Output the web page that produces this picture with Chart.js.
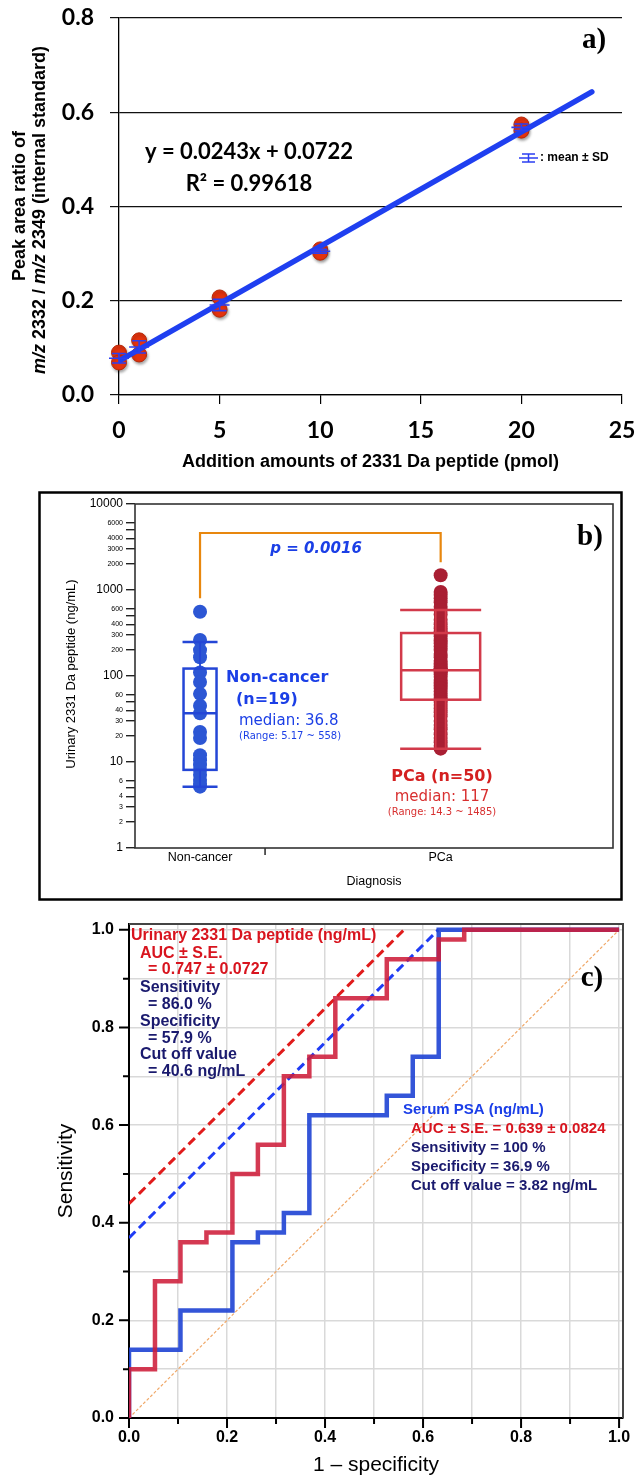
<!DOCTYPE html>
<html>
<head>
<meta charset="utf-8">
<script src="https://cdn.jsdelivr.net/npm/chart.js@4.4.1/dist/chart.umd.min.js"></script>
<style>
  html, body { margin: 0; padding: 0; background: #fff; }
  #wrap { position: relative; width: 638px; height: 1476px; }
  canvas { position: absolute; left: 0; }
  #chartA { top: 0; }
  #chartB { top: 485px; }
  #chartC { top: 905px; }
</style>
</head>
<body>
<div id="wrap">
  <canvas id="chartA" width="638" height="480"></canvas>
  <canvas id="chartB" width="638" height="420"></canvas>
  <canvas id="chartC" width="638" height="571"></canvas>
</div>
<script>
// ---------- a) calibration curve ----------
const addAmounts = [0, 1, 5, 10, 20];
const ratioRep1  = [0.090, 0.116, 0.207, 0.309, 0.574];
const ratioRep2  = [0.069, 0.086, 0.181, 0.302, 0.561];
const ratioMean  = [0.078, 0.102, 0.191, 0.305, 0.568];
const ratioSD    = [0.010, 0.013, 0.012, 0.004, 0.007];
const fitX = [0, 23.5];
const fitY = [0.0722, 0.6433];
const aXTicks = [0, 5, 10, 15, 20, 25];
const aYTicks = [0, 0.2, 0.4, 0.6, 0.8];
const aYTickLabels = ['0.0', '0.2', '0.4', '0.6', '0.8'];

// ---------- b) box plot ----------
const groups = ['Non-cancer', 'PCa'];
const nonCancerVals = [558, 262, 200, 165, 110, 85, 62, 45, 36.8, 22.3, 19, 12, 10.5, 9.2, 8.1, 7.1, 6.2, 5.6, 5.17];
const pcaVals = [1485, 950, 880, 800, 720, 640, 585, 520, 450, 400, 360, 330, 316, 290, 260, 240, 220, 200, 180, 165,
                 150, 140, 130, 122, 117, 117, 112, 105, 98, 90, 84, 78, 72, 66, 60, 56, 53, 50, 46, 42,
                 38, 34, 30, 27, 24, 21, 19, 17, 15.5, 14.3];
const boxLow    = [5.17, 14.3];
const boxQ1     = [8.1, 53];
const boxMedian = [36.8, 117];
const boxQ3     = [122, 316];
const boxHigh   = [248, 585];
const bYTicks = [1, 2, 3, 4, 5, 6, 10, 20, 30, 40, 50, 60, 100, 200, 300, 400, 500, 600,
                 1000, 2000, 3000, 4000, 5000, 6000, 10000];
const bYTickLabels = ['1', '2', '3', '4', '', '6', '10', '20', '30', '40', '', '60', '100', '200', '300', '400', '', '600',
                      '1000', '2000', '3000', '4000', '', '6000', '10000'];
const bMajorTicks = [1, 10, 100, 1000, 10000];
const pBracket = [800, 4600, 2100];   // left leg end, bar level, right leg end

// ---------- c) ROC curves ----------
const urinaryFpr = [0, 0, 0.053, 0.105, 0.158, 0.211, 0.263, 0.316, 0.368, 0.421, 0.526, 0.632, 0.684, 1.0];
const urinaryTpr = [0, 0.10, 0.28, 0.36, 0.38, 0.50, 0.56, 0.70, 0.74, 0.86, 0.94, 0.98, 1.0, 1.0];
const psaFpr = [0, 0, 0.105, 0.211, 0.263, 0.316, 0.368, 0.526, 0.579, 0.632, 1.0];
const psaTpr = [0, 0.14, 0.22, 0.36, 0.38, 0.42, 0.62, 0.66, 0.74, 1.0, 1.0];
const urinaryCutX = [0, 0.561];
const urinaryCutY = [0.439, 1.0];
const psaCutX = [0, 0.631];
const psaCutY = [0.369, 1.0];
const chanceX = [0, 1];
const chanceY = [0, 1];
const cTicks = [0, 0.1, 0.2, 0.3, 0.4, 0.5, 0.6, 0.7, 0.8, 0.9, 1.0];
const cTickLabels = ['0.0', '', '0.2', '', '0.4', '', '0.6', '', '0.8', '', '1.0'];

// layout / style
const groupPos = [1, 4.7];
const boxHalf = [16.5, 39.5];
const whiskerHalf = [0, 5];
const dotColors = ['#2c56d4', '#a91f33'];
const boxColors = ['#2446d6', '#d23a4a'];

const SANS = '"Liberation Sans", Arial, sans-serif';
const SERIF = '"Liberation Serif", "Times New Roman", serif';
const GOTHIC = '"DejaVu Sans", sans-serif';

Chart.defaults.animation = false;
Chart.defaults.font.family = SANS;
Chart.defaults.color = '#000';
Chart.defaults.plugins.legend.display = false;
Chart.defaults.plugins.tooltip.enabled = false;

const pts = (xs, ys) => xs.map((v, i) => ({ x: v, y: ys[i] }));

// pin the axis box sizes so the plot areas land where the original ones are
function pinWidth(w) {
    return s => { s.width = w; s.paddingTop = 0; s.paddingBottom = 0; };
}
function pinHeight(h) {
    return s => { s.height = h; s.paddingLeft = 0; s.paddingRight = 0; };
}

function drawRich(ctx, parts, x, y, align) {
    let total = 0;
    parts.forEach(p => { ctx.font = p[1]; total += ctx.measureText(p[0]).width; });
    let cx = align === 'center' ? x - total / 2 : x;
    ctx.textAlign = 'left';
    parts.forEach(p => {
        ctx.font = p[1];
        ctx.fillStyle = p[2];
        ctx.fillText(p[0], cx, y);
        cx += ctx.measureText(p[0]).width;
    });
}

function text(ctx, str, x, y, font, color, align) {
    ctx.font = font;
    ctx.fillStyle = color;
    ctx.textAlign = align || 'left';
    ctx.fillText(str, x, y);
}

// ================= a) =================
const panelA = {
    id: 'panelA',
    beforeDatasetDraw(chart, args) {
        if (args.index === 1) {
            chart.ctx.save();
            chart.ctx.shadowColor = 'rgba(0,0,0,0.35)';
            chart.ctx.shadowBlur = 3;
            chart.ctx.shadowOffsetX = 1;
            chart.ctx.shadowOffsetY = 2;
        }
    },
    afterDatasetDraw(chart, args) {
        if (args.index === 1) chart.ctx.restore();
    },
    afterDatasetsDraw(chart) {
        const { ctx, scales: { x, y } } = chart;
        ctx.save();
        ctx.strokeStyle = '#2b3ff2';
        ctx.lineWidth = 1.6;
        addAmounts.forEach((amt, i) => {
            const px = x.getPixelForValue(amt);
            const pm = y.getPixelForValue(ratioMean[i]);
            const pt = y.getPixelForValue(ratioMean[i] + ratioSD[i]);
            const pb = y.getPixelForValue(ratioMean[i] - ratioSD[i]);
            ctx.beginPath();
            ctx.moveTo(px - 10, pm); ctx.lineTo(px + 10, pm);
            ctx.moveTo(px - 7, pt); ctx.lineTo(px + 7, pt);
            ctx.moveTo(px - 7, pb); ctx.lineTo(px + 7, pb);
            ctx.moveTo(px, pt); ctx.lineTo(px, pb);
            ctx.stroke();
        });
        ctx.restore();
    },
    afterDraw(chart) {
        const ctx = chart.ctx;
        const area = chart.chartArea;
        ctx.save();
        ctx.textBaseline = 'middle';

        text(ctx, 'y = 0.0243x + 0.0722', 249, 152, 'bold 22px Lato', '#000', 'center');
        text(ctx, 'R\u00b2 = 0.99618', 249, 184, 'bold 22px Lato', '#000', 'center');

        // legend: mean ± SD
        ctx.strokeStyle = '#2b3ff2';
        ctx.lineWidth = 1.5;
        ctx.beginPath();
        ctx.moveTo(519, 158); ctx.lineTo(538, 158);
        ctx.moveTo(522, 154); ctx.lineTo(535, 154);
        ctx.moveTo(522, 162); ctx.lineTo(535, 162);
        ctx.moveTo(528.5, 154); ctx.lineTo(528.5, 162);
        ctx.stroke();
        text(ctx, ': mean \u00b1 SD', 540, 158, 'bold 12px ' + SANS, '#000');

        text(ctx, 'a)', 594, 41, 'bold 29px ' + SERIF, '#000', 'center');

        text(ctx, 'Addition amounts of 2331 Da peptide (pmol)', (area.left + area.right) / 2, 462,
             'bold 18px ' + SANS, '#000', 'center');

        const b = 'bold 18px ' + SANS, bi = 'italic bold 18px ' + SANS;
        ctx.translate(20, 206);
        ctx.rotate(-Math.PI / 2);
        drawRich(ctx, [['Peak area ratio of', b, '#000']], 0, 0, 'center');
        drawRich(ctx, [['m/z', bi, '#000'], [' 2332 / ', b, '#000'], ['m/z', bi, '#000'],
                       [' 2349 (internal standard)', b, '#000']], -4, 20, 'center');
        ctx.restore();
    }
};

new Chart(document.getElementById('chartA'), {
    type: 'scatter',
    data: {
        datasets: [{
            data: pts(fitX, fitY),
            showLine: true,
            borderColor: '#1f3ff0',
            borderWidth: 5.5,
            pointRadius: 0,
            borderCapStyle: 'round'
        }, {
            data: pts(addAmounts, ratioRep1).concat(pts(addAmounts, ratioRep2)),
            pointRadius: 7.5,
            backgroundColor: '#e4330e',
            borderColor: '#b52808',
            borderWidth: 1,
            clip: false
        }]
    },
    options: {
        responsive: false,
        layout: { padding: { top: 18, right: 16, left: 0, bottom: 0 } },
        scales: {
            x: {
                type: 'linear', min: 0, max: 25,
                afterBuildTicks: s => { s.ticks = aXTicks.map(v => ({ value: v })); },
                afterFit: pinHeight(85),
                ticks: { font: { family: 'Lato', weight: 'bold', size: 23 }, color: '#000', padding: 13, autoSkip: false },
                grid: { drawOnChartArea: false, tickLength: 9, color: '#000', lineWidth: 1.2 },
                border: { color: '#000', width: 1.3 }
            },
            y: {
                type: 'linear', min: 0, max: 0.8,
                afterBuildTicks: s => { s.ticks = aYTicks.map(v => ({ value: v })); },
                afterFit: pinWidth(119),
                ticks: {
                    font: { family: 'Lato', weight: 'bold', size: 23 }, color: '#000', padding: 16, autoSkip: false,
                    callback: (v, i) => aYTickLabels[i]
                },
                grid: { color: '#111', lineWidth: 1.2, tickLength: 9 },
                border: { color: '#000', width: 1.3 }
            }
        }
    },
    plugins: [panelA]
});

// ================= b) =================
const panelB = {
    id: 'panelB',
    afterDatasetsDraw(chart) {
        const { ctx, scales: { x, y } } = chart;
        ctx.save();
        groups.forEach((g, i) => {
            const cx = x.getPixelForValue(groupPos[i]);
            const hw = boxHalf[i];
            const yq1 = y.getPixelForValue(boxQ1[i]);
            const yq3 = y.getPixelForValue(boxQ3[i]);
            const ymd = y.getPixelForValue(boxMedian[i]);
            const ylo = y.getPixelForValue(boxLow[i]);
            const yhi = y.getPixelForValue(boxHigh[i]);
            ctx.strokeStyle = boxColors[i];
            ctx.lineWidth = 2.5;
            ctx.strokeRect(cx - hw, yq3, hw * 2, yq1 - yq3);
            ctx.beginPath();
            ctx.moveTo(cx - hw, ymd); ctx.lineTo(cx + hw, ymd);
            ctx.moveTo(cx - hw - 1, yhi); ctx.lineTo(cx + hw + 1, yhi);
            ctx.moveTo(cx - hw - 1, ylo); ctx.lineTo(cx + hw + 1, ylo);
            ctx.stroke();
            ctx.lineWidth = 1.8;
            const wh = whiskerHalf[i];
            ctx.beginPath();
            if (wh === 0) {
                ctx.moveTo(cx, yhi); ctx.lineTo(cx, yq3);
                ctx.moveTo(cx, yq1); ctx.lineTo(cx, ylo);
            } else {
                [-wh, wh].forEach(d => {
                    ctx.moveTo(cx + d, yhi); ctx.lineTo(cx + d, yq3);
                    ctx.moveTo(cx + d, yq1); ctx.lineTo(cx + d, ylo);
                });
            }
            ctx.stroke();
        });

        // significance bracket
        const x1 = x.getPixelForValue(groupPos[0]);
        const x2 = x.getPixelForValue(groupPos[1]);
        ctx.strokeStyle = '#e8870e';
        ctx.lineWidth = 2.2;
        ctx.beginPath();
        ctx.moveTo(x1, y.getPixelForValue(pBracket[0]));
        ctx.lineTo(x1, y.getPixelForValue(pBracket[1]));
        ctx.lineTo(x2, y.getPixelForValue(pBracket[1]));
        ctx.lineTo(x2, y.getPixelForValue(pBracket[2]));
        ctx.stroke();
        ctx.restore();
    },
    afterDraw(chart) {
        const { ctx, chartArea: a, scales: { x } } = chart;
        ctx.save();
        // plot box
        ctx.strokeStyle = '#333';
        ctx.lineWidth = 1.6;
        ctx.strokeRect(a.left, a.top, a.right - a.left, a.bottom - a.top);
        // category divider tick
        ctx.beginPath();
        ctx.moveTo(x.getPixelForValue(2), a.bottom);
        ctx.lineTo(x.getPixelForValue(2), a.bottom + 7);
        ctx.stroke();
        // outer frame
        ctx.strokeStyle = '#000';
        ctx.lineWidth = 2.5;
        ctx.strokeRect(39.5, 7.5, 582, 407);

        ctx.textBaseline = 'middle';
        const blue = '#1b3fe6', red = '#d42020';
        text(ctx, 'p = 0.0016', 316, 64, 'italic bold 15px ' + GOTHIC, blue, 'center');
        text(ctx, 'Non-cancer', 226, 193, 'bold 16px ' + GOTHIC, blue);
        text(ctx, '(n=19)', 236, 215, 'bold 16px ' + GOTHIC, blue);
        text(ctx, 'median: 36.8', 239, 236, '15px ' + GOTHIC, blue);
        text(ctx, '(Range: 5.17 ~ 558)', 239, 251, '10px ' + GOTHIC, blue);
        text(ctx, 'PCa (n=50)', 442, 292, 'bold 16px ' + GOTHIC, red, 'center');
        text(ctx, 'median: 117', 442, 312, '15px ' + GOTHIC, '#d83030', 'center');
        text(ctx, '(Range: 14.3 ~ 1485)', 442, 327, '10px ' + GOTHIC, '#d83030', 'center');

        groups.forEach((g, i) => {
            text(ctx, g, x.getPixelForValue(groupPos[i]), 373, '12.5px ' + SANS, '#000', 'center');
        });
        text(ctx, 'Diagnosis', 374, 397, '12.5px ' + SANS, '#000', 'center');
        text(ctx, 'b)', 590, 53, 'bold 29px ' + SERIF, '#000', 'center');

        ctx.translate(71, 189);
        ctx.rotate(-Math.PI / 2);
        text(ctx, 'Urinary 2331 Da peptide (ng/mL)', 0, 0, '13px ' + SANS, '#000', 'center');
        ctx.restore();
    }
};

new Chart(document.getElementById('chartB'), {
    type: 'scatter',
    data: {
        datasets: [{
            data: nonCancerVals.map(v => ({ x: groupPos[0], y: v })),
            pointRadius: 7,
            backgroundColor: dotColors[0],
            borderColor: dotColors[0],
            borderWidth: 0,
            clip: false
        }, {
            data: pcaVals.map(v => ({ x: groupPos[1], y: v })),
            pointRadius: 7,
            backgroundColor: dotColors[1],
            borderColor: dotColors[1],
            borderWidth: 0,
            clip: false
        }]
    },
    options: {
        responsive: false,
        layout: { padding: { top: 19, right: 25, left: 0, bottom: 0 } },
        scales: {
            x: {
                type: 'linear', min: 0, max: 7.35,
                afterFit: pinHeight(57),
                ticks: { display: false },
                grid: { display: false },
                border: { display: false }
            },
            y: {
                type: 'logarithmic', min: 1, max: 10000,
                afterBuildTicks: s => { s.ticks = bYTicks.map(v => ({ value: v })); },
                afterFit: pinWidth(135),
                ticks: {
                    padding: 3,
                    autoSkip: false,
                    color: '#000',
                    font: c => ({ family: SANS, size: bMajorTicks.includes(c.tick && c.tick.value) ? 12 : 7 }),
                    callback: (v, i) => bYTickLabels[i]
                },
                grid: { drawOnChartArea: false, tickLength: 9, color: '#222', lineWidth: 1.4 },
                border: { display: false }
            }
        }
    },
    plugins: [panelB]
});

// ================= c) =================
const panelC = {
    id: 'panelC',
    afterDraw(chart) {
        const { ctx, chartArea: a, scales: { x, y } } = chart;
        ctx.save();
        // top / right frame
        ctx.strokeStyle = '#444';
        ctx.lineWidth = 2;
        ctx.beginPath();
        ctx.moveTo(a.left, a.top); ctx.lineTo(a.right, a.top); ctx.lineTo(a.right, a.bottom);
        ctx.stroke();
        // tick marks
        ctx.strokeStyle = '#000';
        ctx.lineWidth = 2;
        ctx.beginPath();
        cTicks.forEach((v, i) => {
            const len = cTickLabels[i] ? 10 : 6;
            const py = y.getPixelForValue(v);
            ctx.moveTo(a.left - len, py); ctx.lineTo(a.left, py);
            const px = x.getPixelForValue(v);
            ctx.moveTo(px, a.bottom); ctx.lineTo(px, a.bottom + len);
        });
        ctx.stroke();

        ctx.textBaseline = 'middle';
        const red = '#d8141e', navy = '#1a1a6e', blue = '#1a3ee8';
        const f16 = 'bold 16px ' + SANS, f15 = 'bold 15px ' + SANS;
        text(ctx, 'Urinary 2331 Da peptide (ng/mL)', 131, 31, f16, red);
        text(ctx, 'AUC \u00b1 S.E.', 140, 49, f16, red);
        text(ctx, '= 0.747 \u00b1 0.0727', 148, 65, f16, red);
        text(ctx, 'Sensitivity', 140, 83, f16, navy);
        text(ctx, '= 86.0 %', 148, 100, f16, navy);
        text(ctx, 'Specificity', 140, 117, f16, navy);
        text(ctx, '= 57.9 %', 148, 134, f16, navy);
        text(ctx, 'Cut off value', 140, 150, f16, navy);
        text(ctx, '= 40.6 ng/mL', 148, 167, f16, navy);

        text(ctx, 'Serum PSA (ng/mL)', 403, 205, f15, blue);
        text(ctx, 'AUC \u00b1 S.E. = 0.639 \u00b1 0.0824', 411, 224, f15, red);
        text(ctx, 'Sensitivity = 100 %', 411, 243, f15, navy);
        text(ctx, 'Specificity = 36.9 %', 411, 262, f15, navy);
        text(ctx, 'Cut off value = 3.82 ng/mL', 411, 281, f15, navy);

        text(ctx, 'c)', 592, 74, 'bold 29px ' + SERIF, '#000', 'center');
        text(ctx, '1 \u2013 specificity', (a.left + a.right) / 2, 560, '21px ' + SANS, '#000', 'center');
        ctx.translate(66, (a.top + a.bottom) / 2);
        ctx.rotate(-Math.PI / 2);
        text(ctx, 'Sensitivity', 0, 0, '21px ' + SANS, '#000', 'center');
        ctx.restore();
    }
};

const cTickFont = { family: SANS, weight: 'bold', size: 16 };

new Chart(document.getElementById('chartC'), {
    type: 'scatter',
    data: {
        datasets: [{
            data: pts(urinaryFpr, urinaryTpr),
            showLine: true, stepped: 'before',
            borderColor: 'rgba(206,30,58,0.88)', borderWidth: 4.5, pointRadius: 0
        }, {
            data: pts(psaFpr, psaTpr),
            showLine: true, stepped: 'before',
            borderColor: 'rgba(30,66,212,0.9)', borderWidth: 4.5, pointRadius: 0
        }, {
            data: pts(urinaryCutX, urinaryCutY),
            showLine: true, borderColor: '#e01b1b', borderWidth: 3, borderDash: [9, 5], pointRadius: 0
        }, {
            data: pts(psaCutX, psaCutY),
            showLine: true, borderColor: '#1f3cf5', borderWidth: 3, borderDash: [9, 5], pointRadius: 0
        }, {
            data: pts(chanceX, chanceY),
            showLine: true, borderColor: '#f0a868', borderWidth: 1.2, borderDash: [3, 2], pointRadius: 0
        }]
    },
    options: {
        responsive: false,
        layout: { padding: { top: 19, right: 15, left: 0, bottom: 0 } },
        scales: {
            x: {
                type: 'linear', min: 0, max: 1.008,
                afterBuildTicks: s => { s.ticks = cTicks.map(v => ({ value: v })); },
                afterFit: pinHeight(58),
                ticks: { font: cTickFont, color: '#000', padding: 10, maxRotation: 0, autoSkip: false,
                         callback: (v, i) => cTickLabels[i] },
                grid: { color: '#d9d9d9', lineWidth: 1.5, drawTicks: false },
                border: { color: '#000', width: 2 }
            },
            y: {
                type: 'linear', min: 0, max: 1.012,
                afterBuildTicks: s => { s.ticks = cTicks.map(v => ({ value: v })); },
                afterFit: pinWidth(129),
                ticks: { font: cTickFont, color: '#000', padding: 15, autoSkip: false,
                         callback: (v, i) => cTickLabels[i] },
                grid: { color: '#d9d9d9', lineWidth: 1.5, drawTicks: false },
                border: { color: '#000', width: 2 }
            }
        }
    },
    plugins: [panelC]
});
</script>
</body>
</html>
